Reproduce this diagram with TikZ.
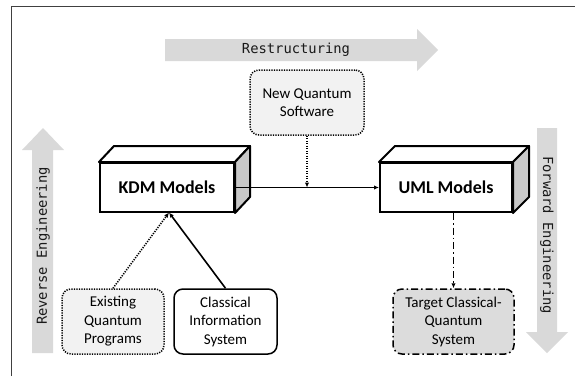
\documentclass[tikz,border=0pt]{standalone}
\usepackage{fontspec}
\setmainfont{Carlito}
\setmonofont{DejaVu Sans Mono}
\usetikzlibrary{calc,arrows.meta}

\definecolor{bandgray}{HTML}{D9D9D9}
\definecolor{sidegray}{HTML}{C8C8C8}
\definecolor{palegray}{HTML}{F2F2F2}
\definecolor{midgray}{HTML}{DCDCDC}

\tikzset{
  bigarrow/.style={fill=bandgray, draw=none},
  bandlabel/.style={font=\ttfamily\fontsize{13.8}{16}\selectfont, text=black!90},
  front/.style={draw, line width=2pt, fill=white, minimum height=49pt, inner sep=0pt,
    font=\bfseries\fontsize{18}{22}\selectfont},
  facetop/.style={draw, line width=2pt, fill=white, line join=round},
  faceside/.style={draw, line width=2pt, fill=sidegray, line join=round},
  infobox/.style={draw, rounded corners=9pt, line width=1.5pt, align=center,
    minimum height=65pt, inner sep=0pt, font=\fontsize{15}{18.5}\selectfont},
  dotline/.style={dash pattern=on 1.2pt off 1.3pt},
  dashdotline/.style={dash pattern=on 7pt off 3pt on 1.5pt off 3pt},
  conn/.style={line width=1.6pt, -{Latex[length=5pt,width=4.5pt]}},
}

\begin{document}
\begin{tikzpicture}[x=1pt, y=-1pt]
\useasboundingbox (0,0) rectangle (575,376);

% frame edges
\draw[line width=1.5pt, black!75] (11.5,376) -- (11.5,6.5) -- (575,6.5);

% process bands
\fill[bigarrow] (165,39) -- (417,39) -- (417,29) -- (438,50) -- (417,71) -- (417,61) -- (165,61) -- cycle;
\node[bandlabel] (restr) at (296,50) {Restructuring};

\fill[bigarrow] (32,353) -- (32,150) -- (22,150) -- (43,128) -- (64,150) -- (53,150) -- (53,353) -- cycle;
\node[bandlabel, rotate=90] (reverse) at (43,246) {Reverse Engineering};

\fill[bigarrow] (537,128) -- (557,128) -- (557,332) -- (568,332) -- (547,353) -- (526,332) -- (537,332) -- cycle;
\node[bandlabel, rotate=-90] (forward) at (547,235) {Forward Engineering};

% model cuboids
\node[front, minimum width=134pt] (kdm) at (167,187.5) {KDM Models};
\draw[facetop] (kdm.north west) -- ($(kdm.north west)+(15,-16)$) -- ($(kdm.north east)+(15,-16)$) -- (kdm.north east) -- cycle;
\draw[faceside] (kdm.north east) -- ($(kdm.north east)+(15,-16)$) -- ($(kdm.south east)+(15,-16)$) -- (kdm.south east) -- cycle;

\node[front, minimum width=132pt] (uml) at (446,187.5) {UML Models};
\draw[facetop] (uml.north west) -- ($(uml.north west)+(16,-16)$) -- ($(uml.north east)+(16,-16)$) -- (uml.north east) -- cycle;
\draw[faceside] (uml.north east) -- ($(uml.north east)+(16,-16)$) -- ($(uml.south east)+(16,-16)$) -- (uml.south east) -- cycle;

% software artefacts
\node[infobox, dotline, fill=palegray, minimum width=114pt] (nqs) at (307,102.5) {New Quantum\\Software};
\node[infobox, dotline, fill=palegray, minimum width=102pt] (eqp) at (113,321.5) {Existing\\Quantum\\Programs};
\node[infobox, fill=white, minimum width=103pt] (cis) at (225.5,321.5) {Classical\\Information\\System};
\node[infobox, dashdotline, fill=midgray, minimum width=121pt] (tcqs) at (453.5,321.5) {Target Classical-\\Quantum\\System};

% connectors
\coordinate (join) at (307,187.5);
\coordinate (kdmin) at (169,212.5);
\draw[conn] (kdm.east) -- (uml.west);
\draw[conn, dotline] (nqs.south) -- (join);
\draw[conn, dotline] (eqp.north) -- (kdmin);
\draw[conn] (cis.north) -- (kdmin);
\draw[conn, dashdotline] (uml.south -| tcqs.north) -- (tcqs.north);
\end{tikzpicture}
\end{document}
